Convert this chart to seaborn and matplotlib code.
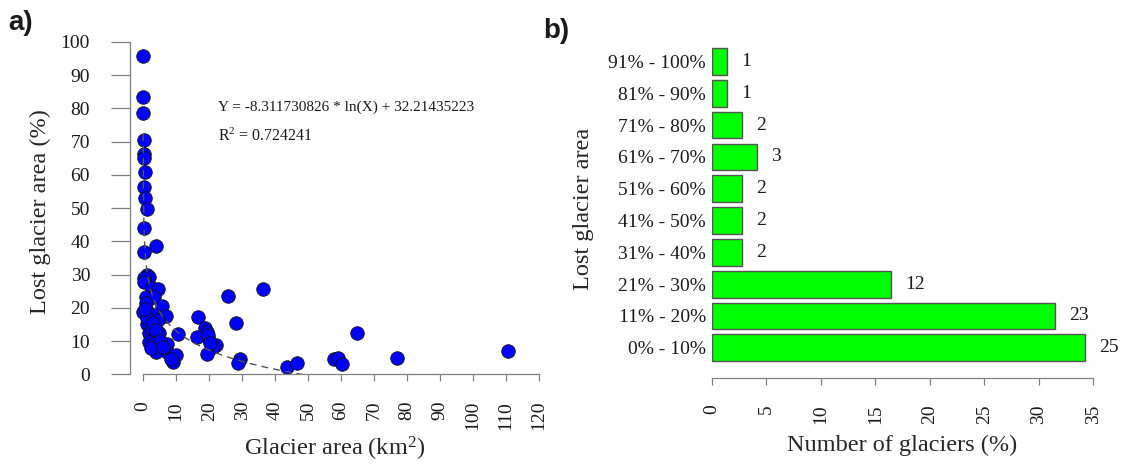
import numpy as np
import pandas as pd
import matplotlib
matplotlib.use("Agg")
import matplotlib.pyplot as plt
import seaborn as sns

# a) glacier area (km2) vs lost glacier area (%)
glacier_area = [0.0, 0.0, 0.0, 0.1, 0.3, 0.3, 0.4, 0.3, 0.5, 1.0, 0.3, 3.8, 0.3,
                1.0, 1.8, 0.2, 0.3, 2.8, 4.6, 36.4, 25.8, 0.8, 3.2, 0.8, 5.6,
                0.0, 1.8, 3.6, 6.9, 4.6, 1.0, 16.7, 28.0, 18.7, 19.2, 10.4, 1.8,
                4.8, 16.2, 19.7, 64.7, 1.0, 0.6, 2.6, 3.0, 3.5, 4.0, 19.5,
                1.8, 3.0, 4.8, 7.1, 3.8, 7.1, 10.0, 9.1, 22.2, 21.2, 19.4, 29.3,
                28.8, 43.5, 46.7, 57.8, 59.1, 60.4, 76.8, 110.6, 5.0, 2.5, 8.5,
                6.0, 20.2]
lost_area = [95.8, 83.5, 78.6, 70.6, 66.3, 65.1, 61.0, 56.3, 53.0, 49.8, 44.0, 38.6, 36.7,
             29.8, 29.4, 29.0, 27.8, 26.0, 25.6, 25.6, 23.6, 23.2, 23.3, 21.5, 20.6,
             18.9, 18.4, 17.9, 17.6, 16.4, 15.1, 17.2, 15.6, 13.9, 12.9, 12.1, 12.4,
             12.4, 11.4, 10.9, 12.6, 16.9, 19.8, 13.8, 15.6, 11.5, 13.5, 11.8,
             9.9, 9.2, 9.2, 9.2, 6.9, 6.9, 5.9, 3.9, 8.9, 8.4, 6.2, 4.8,
             3.4, 2.3, 3.6, 4.6, 5.1, 3.2, 4.9, 7.1, 10.0, 8.0, 4.6,
             8.2, 9.6]

# logarithmic fit printed on the chart
fit_slope = -8.311730826
fit_intercept = 32.21435223
fit_r2 = 0.724241
fit_xmin = 0.008

# b) number of glaciers per class of lost area
loss_classes = ["91% - 100%", "81% - 90%", "71% - 80%", "61% - 70%", "51% - 60%",
                "41% - 50%", "31% - 40%", "21% - 30%", "11% - 20%", "0% - 10%"]
glacier_counts = [1, 1, 2, 3, 2, 2, 2, 12, 23, 25]

df_a = pd.DataFrame({"area": glacier_area, "lost": lost_area})
df_b = pd.DataFrame({"cls": loss_classes, "n": glacier_counts})
df_b["pct"] = df_b["n"] / df_b["n"].sum() * 100

sns.set_style("ticks")
plt.rcParams["font.family"] = ["Liberation Serif", "DejaVu Serif"]
plt.rcParams["mathtext.fontset"] = "custom"
plt.rcParams["mathtext.rm"] = "Liberation Serif"
plt.rcParams["mathtext.it"] = "Liberation Serif:italic"
plt.rcParams["text.color"] = "#1a1a1a"

axis_grey = "#808080"
fig = plt.figure(figsize=(11.27, 4.69), dpi=100)

# ---- panel a
ax1 = fig.add_axes([0.1153, 0.2015, 0.3682, 0.7175])
sns.scatterplot(data=df_a, x="area", y="lost", ax=ax1, color="#0000ff",
                edgecolor="#111111", linewidth=0.6, s=95, zorder=2, legend=False)
fit_x = np.geomspace(fit_xmin, 120, 600)
fit_y = fit_slope * np.log(fit_x) + fit_intercept
ax1.plot(fit_x, fit_y, color="#555555", lw=1.0, ls=(0, (5, 3.6)), zorder=3)

ax1.set_xlim(-4.03, 121.8)
ax1.set_ylim(0, 101.2)
ax1.set_xticks(range(0, 121, 10))
ax1.set_yticks(range(0, 101, 10))
ax1.tick_params(axis="y", length=13.7, width=0.9, color=axis_grey, pad=15,
                labelsize=14, labelcolor="#1a1a1a")
ax1.tick_params(axis="x", length=5, width=0.9, color=axis_grey, pad=14,
                labelsize=14, labelcolor="#1a1a1a", labelrotation=90)
for side in ["top", "right"]:
    ax1.spines[side].set_visible(False)
ax1.spines["left"].set_bounds(0, 100)
ax1.spines["bottom"].set_bounds(0, 120)
for side in ["left", "bottom"]:
    ax1.spines[side].set_color(axis_grey)
    ax1.spines[side].set_linewidth(0.9)

ax1.set_xlabel("Glacier area (km$^{2}$)", fontsize=17.5)
ax1.set_ylabel("Lost glacier area (%)", fontsize=17.5)
ax1.xaxis.set_label_coords(0.494, -0.18)
ax1.yaxis.set_label_coords(-0.19, 0.484)

ax1.text(22.6, 80.3, f"Y = {fit_slope} * ln(X) + {fit_intercept}",
         fontsize=11, ha="left", va="center")
ax1.text(22.6, 71.5, f"R$^{{2}}$ = {fit_r2}", fontsize=11.5, ha="left", va="center")

# ---- panel b
ax2 = fig.add_axes([0.6318, 0.194, 0.3443, 0.7164])
sns.barplot(data=df_b, x="pct", y="cls", order=loss_classes, ax=ax2,
            color="#00ff00", saturation=1, edgecolor="#555555", linewidth=1,
            width=0.84, orient="h")
for i, row in df_b.iterrows():
    ax2.text(row["pct"] + 1.3, i, str(row["n"]), fontsize=14, ha="left", va="center")

ax2.set_xlim(0, 35.64)
ax2.set_ylim(9.95, -0.61)
ax2.set_xticks(range(0, 36, 5))
ax2.tick_params(axis="y", length=0, pad=4.5, labelsize=14, labelcolor="#1a1a1a")
ax2.tick_params(axis="x", length=5, width=0.9, color=axis_grey, pad=14,
                labelsize=14, labelcolor="#1a1a1a", labelrotation=90)
for side in ["top", "right", "left"]:
    ax2.spines[side].set_visible(False)
ax2.spines["bottom"].set_bounds(0, 35)
ax2.spines["bottom"].set_color(axis_grey)
ax2.spines["bottom"].set_linewidth(0.9)

ax2.set_xlabel("Number of glaciers (%)", fontsize=17.5)
ax2.set_ylabel("Lost glacier area", fontsize=17.5)
ax2.xaxis.set_label_coords(17.5 / 35.64, -0.17)
ax2.yaxis.set_label_coords(-0.304, 0.503)

# panel letters
fig.text(0.007, 1 - 10 / 469, "a)", fontsize=20, fontweight="bold",
         family=["Liberation Sans", "DejaVu Sans"], ha="left", va="top")
fig.text(543 / 1127, 1 - 18 / 469, "b)", fontsize=20, fontweight="bold",
         family=["Liberation Sans", "DejaVu Sans"], ha="left", va="top")

fig.savefig("out.png", dpi=100)
